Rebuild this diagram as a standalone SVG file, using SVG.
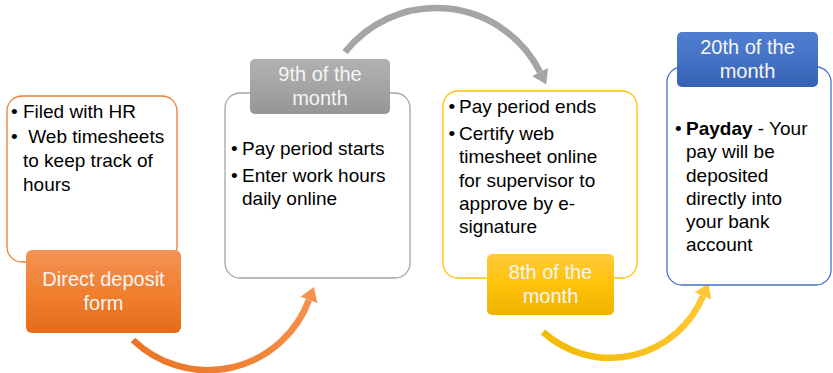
<svg xmlns="http://www.w3.org/2000/svg" width="833" height="373" viewBox="0 0 833 373">
  <defs>
    <linearGradient id="gOrange" x1="0" y1="0" x2="0" y2="1">
      <stop offset="0" stop-color="#F39358"/>
      <stop offset="0.5" stop-color="#F1802F"/>
      <stop offset="1" stop-color="#E46C1A"/>
    </linearGradient>
    <linearGradient id="gGray" x1="0" y1="0" x2="0" y2="1">
      <stop offset="0" stop-color="#B1B1B1"/>
      <stop offset="0.5" stop-color="#A5A5A5"/>
      <stop offset="1" stop-color="#959595"/>
    </linearGradient>
    <linearGradient id="gYellow" x1="0" y1="0" x2="0" y2="1">
      <stop offset="0" stop-color="#FFCB3A"/>
      <stop offset="0.5" stop-color="#FFC20A"/>
      <stop offset="1" stop-color="#EDB300"/>
    </linearGradient>
    <linearGradient id="gBlue" x1="0" y1="0" x2="0" y2="1">
      <stop offset="0" stop-color="#4F7ED0"/>
      <stop offset="0.5" stop-color="#4472C4"/>
      <stop offset="1" stop-color="#3762B4"/>
    </linearGradient>
    <linearGradient id="sOrange" gradientUnits="userSpaceOnUse" x1="133" y1="370" x2="314" y2="287">
      <stop offset="0" stop-color="#EA7321"/>
      <stop offset="1" stop-color="#F5924F"/>
    </linearGradient>
    <linearGradient id="sYellow" gradientUnits="userSpaceOnUse" x1="543" y1="358" x2="708" y2="284">
      <stop offset="0" stop-color="#F2BA00"/>
      <stop offset="1" stop-color="#FFC83A"/>
    </linearGradient>
    <marker id="mOrange" markerUnits="userSpaceOnUse" markerWidth="16" markerHeight="20" refX="0" refY="9" orient="auto" viewBox="0 0 16 18">
      <path d="M0,0 L14,9 L0,18 z" fill="#F5924F"/>
    </marker>
    <marker id="mGray" markerUnits="userSpaceOnUse" markerWidth="16" markerHeight="20" refX="0" refY="9" orient="auto" viewBox="0 0 16 18">
      <path d="M0,0 L14,9 L0,18 z" fill="#A5A5A5"/>
    </marker>
    <marker id="mYellow" markerUnits="userSpaceOnUse" markerWidth="16" markerHeight="20" refX="0" refY="9" orient="auto" viewBox="0 0 16 18">
      <path d="M0,0 L14,9 L0,18 z" fill="#FFC83A"/>
    </marker>
  </defs>
  <style>
    .outline { fill: #FFFFFF; stroke-width: 1.3; }
    .body { font-family: "Liberation Sans", Arial, sans-serif; font-size: 19px; fill: #000000; }
    .label { font-family: "Liberation Sans", Arial, sans-serif; font-size: 20px; fill: #F5F5F5; text-anchor: middle; }
    .arc { fill: none; stroke-width: 6.5; }
  </style>

  <g id="connectors">
    <path class="arc" d="M133,340 A108,108 0 0 0 309,300" stroke="url(#sOrange)" marker-end="url(#mOrange)"/>
    <path class="arc" d="M345,52 A116.3,116.3 0 0 1 540,72" stroke="#A5A5A5" marker-end="url(#mGray)"/>
    <path class="arc" d="M543,332 A100.5,100.5 0 0 0 703,296" stroke="url(#sYellow)" marker-end="url(#mYellow)"/>
  </g>

  <g id="node-direct-deposit">
    <rect class="outline" x="7" y="96" width="170" height="166" rx="15" stroke="#ED7D31"/>
    <text class="body" x="11" y="118">•</text>
    <text class="body" x="23" y="118">Filed with HR</text>
    <text class="body" x="11" y="143">•</text>
    <text class="body" x="23" y="143" xml:space="preserve"> Web timesheets</text>
    <text class="body" x="23" y="167">to keep track of</text>
    <text class="body" x="23" y="191">hours</text>
    <rect x="26" y="250" width="155" height="83" rx="6" fill="url(#gOrange)"/>
    <text class="label" x="103.5" y="286">Direct deposit</text>
    <text class="label" x="103.5" y="310">form</text>
  </g>

  <g id="node-9th">
    <rect class="outline" x="225" y="93" width="185" height="185" rx="15" stroke="#A5A5A5"/>
    <text class="body" x="231" y="155">•</text>
    <text class="body" x="242" y="155">Pay period starts</text>
    <text class="body" x="231" y="182">•</text>
    <text class="body" x="242" y="182">Enter work hours</text>
    <text class="body" x="242" y="205">daily online</text>
    <rect x="250" y="59" width="140" height="55" rx="5" fill="url(#gGray)"/>
    <text class="label" x="320" y="81">9th of the</text>
    <text class="label" x="320" y="105">month</text>
  </g>

  <g id="node-8th">
    <rect class="outline" x="443" y="91" width="194" height="187" rx="15" stroke="#FFC000"/>
    <text class="body" x="448.5" y="113">•</text>
    <text class="body" x="459" y="113">Pay period ends</text>
    <text class="body" x="448.5" y="140">•</text>
    <text class="body" x="459" y="140">Certify web</text>
    <text class="body" x="459" y="163">timesheet online</text>
    <text class="body" x="459" y="187">for supervisor to</text>
    <text class="body" x="459" y="210">approve by e-</text>
    <text class="body" x="459" y="233">signature</text>
    <rect x="487" y="254" width="127" height="61" rx="5" fill="url(#gYellow)"/>
    <text class="label" x="550.5" y="279">8th of the</text>
    <text class="label" x="550.5" y="303">month</text>
  </g>

  <g id="node-20th">
    <rect class="outline" x="667" y="67" width="164" height="218" rx="15" stroke="#4472C4"/>
    <text class="body" x="675" y="135">•</text>
    <text class="body" x="686" y="135"><tspan font-weight="bold">Payday</tspan> - Your</text>
    <text class="body" x="686" y="158">pay will be</text>
    <text class="body" x="686" y="182">deposited</text>
    <text class="body" x="686" y="205">directly into</text>
    <text class="body" x="686" y="228">your bank</text>
    <text class="body" x="686" y="251">account</text>
    <rect x="677" y="32" width="141" height="55" rx="5" fill="url(#gBlue)"/>
    <text class="label" x="747.5" y="54">20th of the</text>
    <text class="label" x="747.5" y="78">month</text>
  </g>
</svg>
